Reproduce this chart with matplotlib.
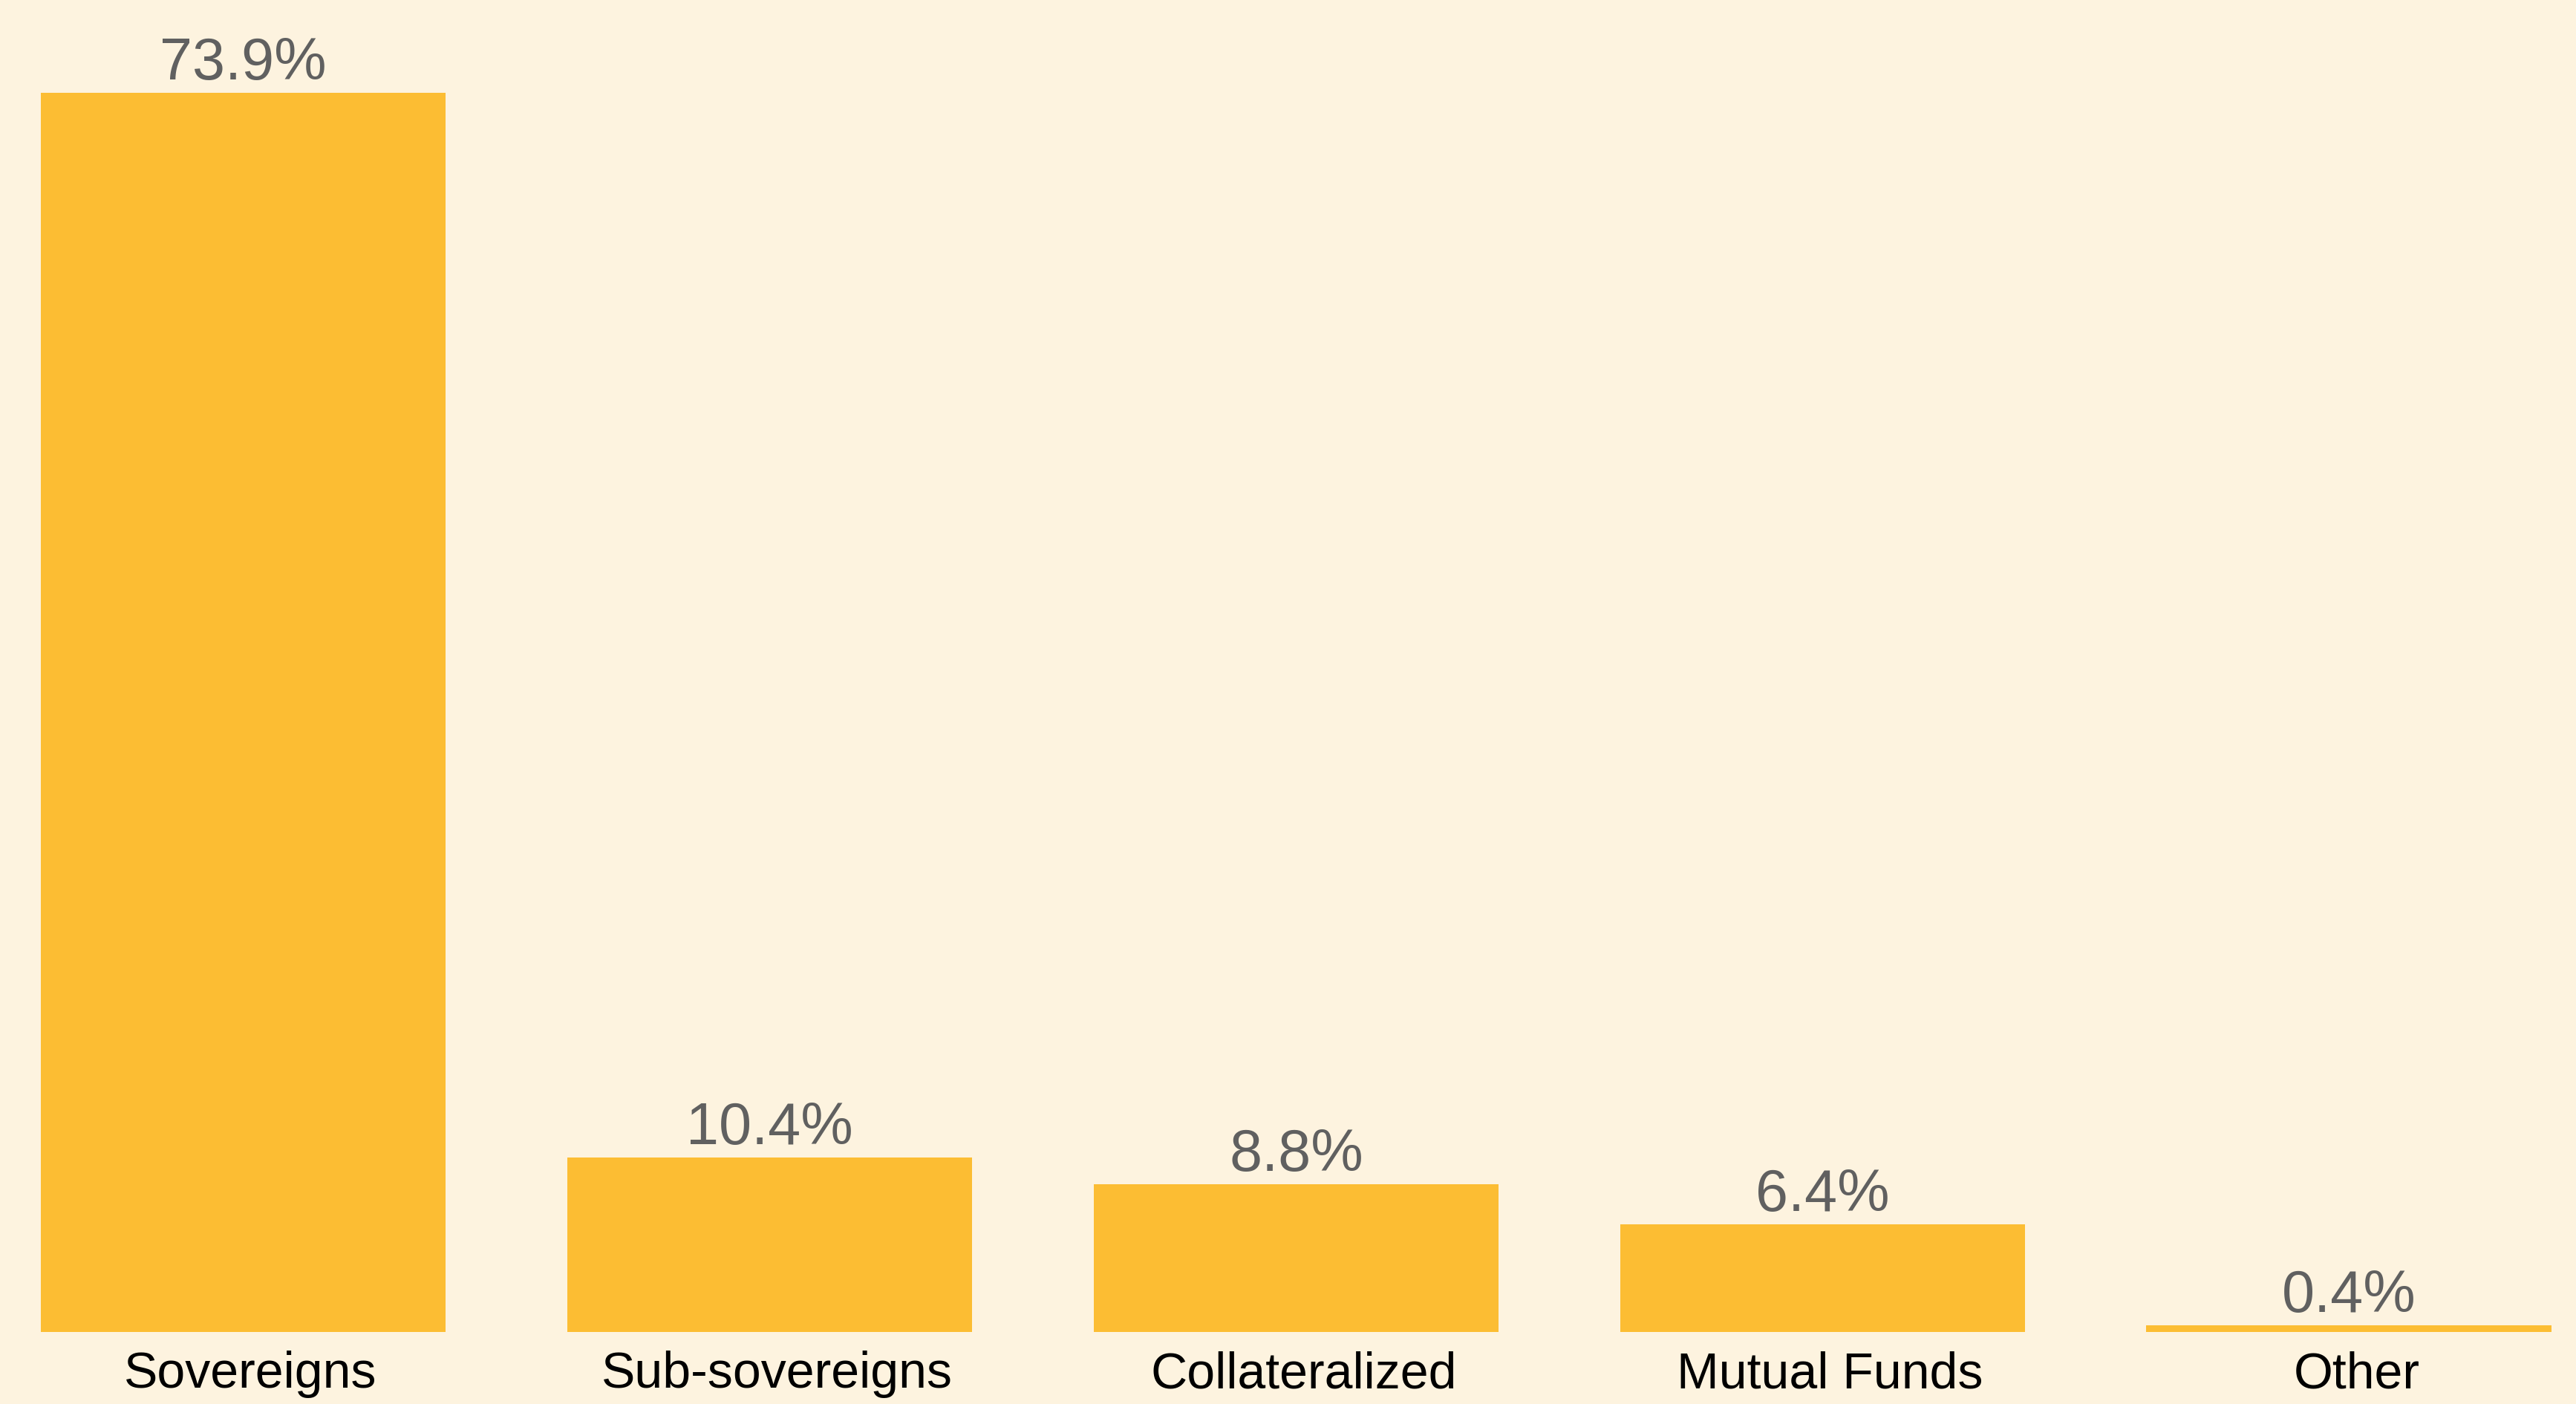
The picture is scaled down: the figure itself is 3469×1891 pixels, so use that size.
import matplotlib
matplotlib.use("Agg")
import matplotlib.pyplot as plt
from matplotlib.transforms import ScaledTranslation

categories = ["Sovereigns", "Sub-sovereigns", "Collateralized", "Mutual Funds", "Other"]
values = [73.9, 10.4, 8.8, 6.4, 0.4]
value_labels = ["73.9%", "10.4%", "8.8%", "6.4%", "0.4%"]

BG = "#FDF3DF"
BAR = "#FCBD33"

plt.rcParams['font.family'] = ['Liberation Sans', 'DejaVu Sans']

W, H = 3469, 1891
fig = plt.figure(figsize=(W / 100, H / 100), dpi=100, facecolor=BG)
bottom_px = 97
ax = fig.add_axes([0, bottom_px / H, 1, 1 - bottom_px / H])
ax.set_facecolor(BG)

x = list(range(len(categories)))
ax.bar(x, values, width=0.77, color=BAR, edgecolor='none')
ax.set_xlim(-0.462, 4.431)
ax.set_ylim(0, 79.42)

for xi, v, lab in zip(x, values, value_labels):
    ax.annotate(lab, xy=(xi, v), xytext=(0, 13), textcoords='offset points',
                ha='center', va='baseline', fontsize=57, color='#606060')

ax.set_xticks(x)
ax.set_xticklabels(categories, fontsize=49, color='black')
ax.tick_params(axis='x', length=0, pad=54)
shift = ScaledTranslation(10 / 100, 0, fig.dpi_scale_trans)
for t in ax.get_xticklabels():
    t.set_va('baseline')
    t.set_transform(t.get_transform() + shift)
ax.set_yticks([])
for s in ax.spines.values():
    s.set_visible(False)

fig.savefig("out.png", dpi=100, facecolor=BG)
